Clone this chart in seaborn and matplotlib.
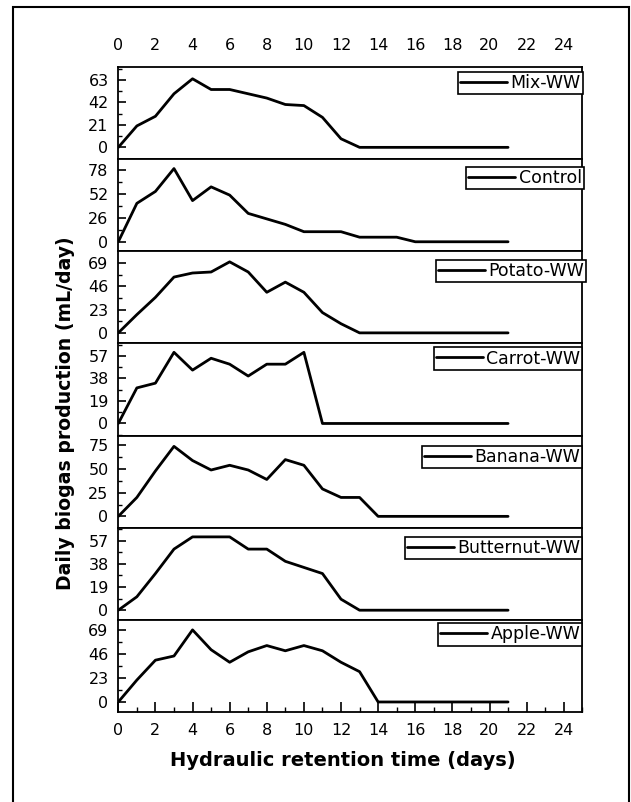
import numpy as np
import pandas as pd
import matplotlib
matplotlib.use("Agg")
import matplotlib.pyplot as plt
from matplotlib.patches import Rectangle
from matplotlib.ticker import MultipleLocator
import seaborn as sns

# jours de rétention
days = list(range(22))

# production journalière de biogaz (mL/jour)
mix_ww = [0, 20, 29, 50, 64, 54, 54, 50, 46, 40, 39, 28, 8, 0, 0, 0, 0, 0, 0, 0, 0, 0]
control = [0, 42, 55, 80, 45, 60, 51, 31, 25, 19, 11, 11, 11, 5, 5, 5, 0, 0, 0, 0, 0, 0]
potato_ww = [0, 18, 35, 55, 59, 60, 70, 60, 40, 50, 40, 20, 9, 0, 0, 0, 0, 0, 0, 0, 0, 0]
carrot_ww = [0, 30, 34, 60, 45, 55, 50, 40, 50, 50, 60, 0, 0, 0, 0, 0, 0, 0, 0, 0, 0, 0]
banana_ww = [0, 20, 48, 74, 59, 49, 54, 49, 39, 60, 54, 29, 20, 20, 0, 0, 0, 0, 0, 0, 0, 0]
butternut_ww = [0, 11, 30, 50, 60, 60, 60, 50, 50, 40, 35, 30, 9, 0, 0, 0, 0, 0, 0, 0, 0, 0]
apple_ww = [0, 21, 40, 44, 69, 50, 38, 48, 54, 49, 54, 49, 38, 29, 0, 0, 0, 0, 0, 0, 0, 0]

labels = ["Mix-WW", "Control", "Potato-WW", "Carrot-WW", "Banana-WW", "Butternut-WW", "Apple-WW"]
series = [mix_ww, control, potato_ww, carrot_ww, banana_ww, butternut_ww, apple_ww]
ytick_step = [21, 26, 23, 19, 25, 19, 23]
ylims = [(-11, 75), (-10.4, 90.3), (-10.4, 80.4), (-10.2, 67.5), (-12, 85.4), (-7.9, 67.5), (-9.6, 78.6)]

# position des légendes (px sous le haut du panneau, bord droit en px)
leg_dy = [5, 7.4, 8.3, 4, 10, 9, 3.5]
leg_right = [582.5, 584, 586, 582.3, 582.3, 582.3, 582.3]

df = pd.DataFrame({"Jour": days * len(labels),
                   "Production": sum(series, []),
                   "Substrat": np.repeat(labels, len(days))})

sns.set_style("ticks")
plt.rcParams["font.family"] = ["DejaVu Sans"]
plt.rcParams["text.color"] = "black"
plt.rcParams["legend.labelcolor"] = "black"

fig, axes = plt.subplots(7, 1, figsize=(6.31, 8.02), dpi=100, sharex=True)
fig.subplots_adjust(left=118.3 / 631, right=582.3 / 631, top=1 - 67 / 802, bottom=1 - 712 / 802, hspace=0)
ax_h = (712 - 67) / 7
ax_w = 582.3 - 118.3

for i, ax in enumerate(axes):
    sub = df[df["Substrat"] == labels[i]]
    sns.lineplot(data=sub, x="Jour", y="Production", color="black", linewidth=2.0, ax=ax, label=labels[i])
    ax.set_xlim(0, 25)
    ax.set_ylim(*ylims[i])
    step = ytick_step[i]
    ax.set_yticks([0, step, 2 * step, 3 * step])
    ax.yaxis.set_minor_locator(MultipleLocator(step / 2))
    ax.xaxis.set_major_locator(MultipleLocator(2))
    ax.xaxis.set_minor_locator(MultipleLocator(1))
    ax.set_xlabel("")
    ax.set_ylabel("")
    for s in ax.spines.values():
        s.set_linewidth(1.3)
        s.set_color("black")
    ax.tick_params(axis="y", which="major", direction="in", length=6, width=1.2, pad=7, labelsize=11.5,
                   color="black", labelcolor="black")
    ax.tick_params(axis="y", which="minor", direction="in", length=3, width=1.0, color="black")
    ax.tick_params(axis="x", which="both", bottom=False, top=False, labelbottom=False, labeltop=False,
                   direction="in", color="black", labelcolor="black")
    anchor = (1 + (leg_right[i] - 582.3) / ax_w, 1 - leg_dy[i] / ax_h)
    leg = ax.legend(loc="upper right", bbox_to_anchor=anchor, frameon=True, fancybox=False, framealpha=1,
                    edgecolor="black", handlelength=2.7, handletextpad=0.2, borderpad=0.12,
                    borderaxespad=0, fontsize=12.5)
    leg.get_frame().set_linewidth(1.2)

axes[0].tick_params(axis="x", which="both", labeltop=True, pad=10, labelsize=11.5)
axes[-1].tick_params(axis="x", which="major", bottom=True, labelbottom=True,
                     length=7, width=1.2, pad=8, labelsize=11.5)
axes[-1].tick_params(axis="x", which="minor", bottom=True, length=3.5, width=1.0)

fig.text(343 / 631, 1 - 760 / 802, "Hydraulic retention time (days)", ha="center", va="center",
         fontsize=14, fontweight="bold")
fig.text(66 / 631, 1 - 413 / 802, "Daily biogas production (mL/day)", ha="center", va="center",
         rotation=90, fontsize=13.6, fontweight="bold")

fig.patches.append(Rectangle((12.7 / 631, -0.05), 616.6 / 631, 1.05 - 6.7 / 802, transform=fig.transFigure,
                             fill=False, edgecolor="black", linewidth=1.5))

fig.savefig("out.png", dpi=100)
